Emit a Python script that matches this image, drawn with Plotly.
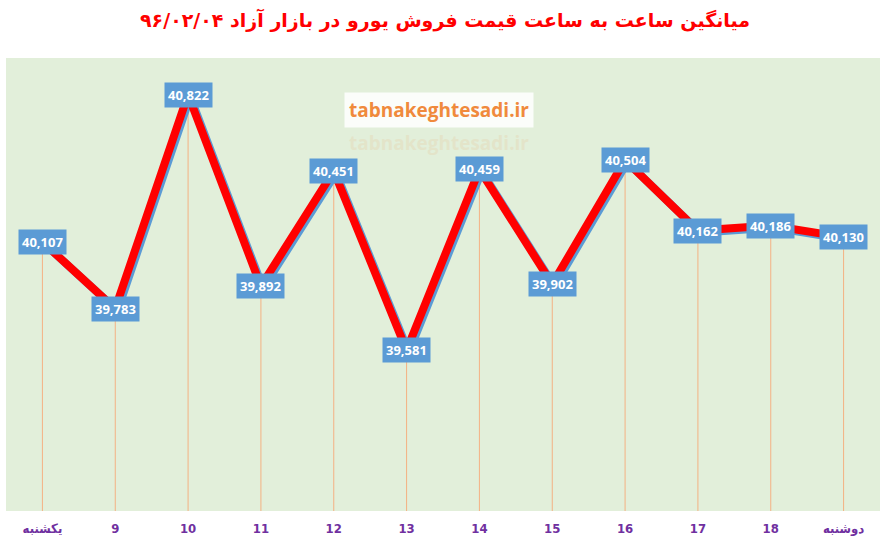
import plotly.graph_objects as go

# hourly euro price (toman)
hours = ['یکشنبه', '9', '10', '11', '12', '13', '14', '15', '16', '17', '18', 'دوشنبه']
prices = [40107, 39783, 40822, 39892, 40451, 39581, 40459, 39902, 40504, 40162, 40186, 40130]
y_min = 38800
y_max = 41000

title = 'میانگین ساعت به ساعت قیمت فروش یورو در بازار آزاد ۹۶/۰۲/۰۴'

xs = list(range(len(hours)))
x_range = [-0.5, len(hours) - 0.5]

fig = go.Figure()

# drop lines from each point to the bottom of the plot
fig.add_trace(go.Scatter(
    x=xs, y=prices, mode='markers',
    marker=dict(size=1, color='rgba(0,0,0,0)'),
    error_y=dict(type='data', symmetric=False,
                 array=[0] * len(prices),
                 arrayminus=[p - y_min for p in prices],
                 color='#F4B183', thickness=1, width=0),
    hoverinfo='skip', showlegend=False))

# blue shadow under the red line (drawn on slightly shifted axes)
fig.add_trace(go.Scatter(
    x=xs, y=prices, mode='lines', xaxis='x2', yaxis='y2',
    line=dict(color='#5B9BD5', width=8),
    hoverinfo='skip', showlegend=False))

# red line on its own overlay so it sits above the shadow
fig.add_trace(go.Scatter(
    x=xs, y=prices, mode='lines', xaxis='x3', yaxis='y3',
    line=dict(color='#FF0000', width=8),
    showlegend=False))

# value labels
for i, p in enumerate(prices):
    fig.add_annotation(x=i, y=p, text='<b>{:,}</b>'.format(p), showarrow=False,
                       bgcolor='#5B9BD5', borderpad=3,
                       font=dict(family='Open Sans', size=13, color='white'))

# watermark
fig.add_annotation(xref='paper', yref='paper', x=0.495, y=0.925,
                   text='<b>tabnakeghtesadi.ir</b>', showarrow=False,
                   bgcolor='rgba(255,255,255,0.85)', borderpad=4,
                   font=dict(family='Open Sans', size=19, color='#F08A3C'))
fig.add_annotation(xref='paper', yref='paper', x=0.495, y=0.845,
                   text='<b>tabnakeghtesadi.ir</b>', showarrow=False,
                   opacity=0.2,
                   font=dict(family='Open Sans', size=19, color='#E8B98A'))

fig.update_layout(
    width=890, height=547,
    margin=dict(l=6, r=10, t=58, b=36),
    paper_bgcolor='white',
    plot_bgcolor='#E2EFDA',
    title=dict(text='<b>' + title + '</b>', x=0.5, xanchor='center', y=0.975,
               font=dict(family='DejaVu Sans', size=19, color='#FF0000')),
    xaxis=dict(range=x_range, tickvals=xs,
               ticktext=['<b>' + h + '</b>' for h in hours],
               automargin=False, ticklabelstandoff=8,
               showgrid=False, zeroline=False, showline=False, ticks='',
               tickfont=dict(family='DejaVu Sans Condensed', size=13, color='#7030A0')),
    yaxis=dict(range=[y_min, y_max], visible=False, showgrid=False),
    xaxis2=dict(range=[x_range[0] - 0.03, x_range[1] - 0.03], overlaying='x',
                visible=False),
    yaxis2=dict(range=[y_min + 10, y_max + 10], overlaying='y', visible=False),
    xaxis3=dict(range=x_range, overlaying='x', visible=False),
    yaxis3=dict(range=[y_min, y_max], overlaying='y', visible=False),
)

fig.write_html("out.html", config={'displayModeBar': False},
               post_script="document.body.style.margin='0';")
